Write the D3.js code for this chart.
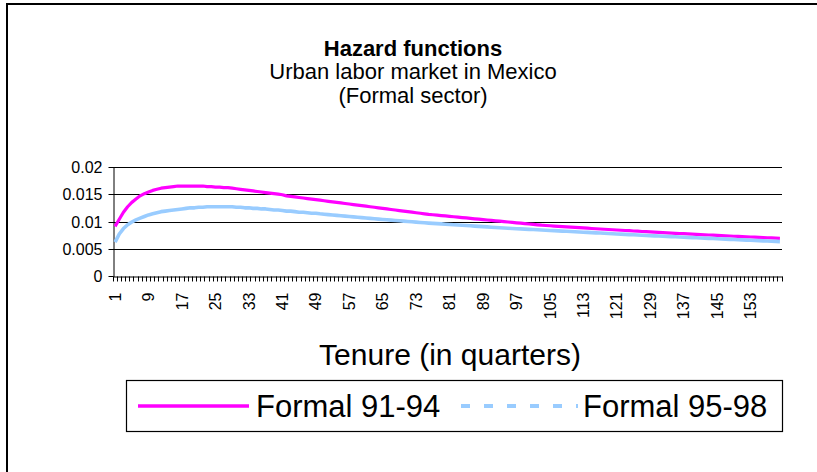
<!DOCTYPE html>
<html>
<head>
<meta charset="utf-8">
<script src="https://cdn.jsdelivr.net/npm/d3@7"></script>
<style>
  html, body { margin: 0; padding: 0; background: #fff; overflow: hidden; }
  svg { display: block; }
  text { font-family: Arial, "Liberation Sans", sans-serif; fill: #000; }
</style>
</head>
<body>
<svg id="chart" width="817" height="472"></svg>
<script>
// Tenure in quarters (categories)
const tenure = d3.range(1, 161);
const tickLabels = [1, 9, 17, 25, 33, 41, 49, 57, 65, 73, 81, 89, 97, 105, 113, 121, 129, 137, 145, 153];

// Hazard rates, formal sector 1991-94
const formal9194 = [
  0.0092, 0.0105, 0.0118, 0.0128, 0.0136, 0.0142, 0.0148, 0.0152, 0.0155, 0.0158,
  0.0160, 0.0162, 0.0163, 0.0164, 0.0165, 0.0166, 0.0166, 0.0166, 0.0166, 0.0166,
  0.0166, 0.0166, 0.0165, 0.0165, 0.0164, 0.0164, 0.0163, 0.0163, 0.0162, 0.0161,
  0.0160, 0.0159, 0.0158, 0.0157, 0.0156, 0.0155, 0.0154, 0.0153, 0.0152, 0.0151,
  0.0150, 0.0148, 0.0147, 0.0146, 0.0145, 0.0144, 0.0143, 0.0142, 0.0141, 0.0140,
  0.0139, 0.0138, 0.0137, 0.0136, 0.0135, 0.0134, 0.0133, 0.0132, 0.0131, 0.0130,
  0.0129, 0.0128, 0.0127, 0.0126, 0.0125, 0.0124, 0.0123, 0.0122, 0.0121, 0.0120,
  0.0119, 0.0118, 0.0117, 0.0116, 0.0115, 0.0114, 0.01133, 0.01126, 0.01118, 0.01111,
  0.01104, 0.01096, 0.01089, 0.01081, 0.01074, 0.01067, 0.01059, 0.01052, 0.01044, 0.01037,
  0.01030, 0.01022, 0.01015, 0.01007, 0.01000, 0.00993, 0.00985, 0.00978, 0.00970, 0.00963,
  0.00956, 0.00948, 0.00941, 0.00936, 0.00931, 0.00926, 0.00921, 0.00916, 0.00911, 0.00906,
  0.00901, 0.00896, 0.00891, 0.00886, 0.00881, 0.00876, 0.00872, 0.00867, 0.00862, 0.00858,
  0.00853, 0.00849, 0.00844, 0.00840, 0.00835, 0.00831, 0.00826, 0.00822, 0.00818, 0.00813,
  0.00809, 0.00805, 0.00801, 0.00797, 0.00793, 0.00789, 0.00785, 0.00781, 0.00777, 0.00773,
  0.00769, 0.00765, 0.00761, 0.00758, 0.00754, 0.00750, 0.00746, 0.00743, 0.00739, 0.00735,
  0.00732, 0.00728, 0.00725, 0.00721, 0.00718, 0.00714, 0.00711, 0.00707, 0.00704, 0.00700
];

// Hazard rates, formal sector 1995-98
const formal9598 = [
  0.0063, 0.0078, 0.0088, 0.0095, 0.0100, 0.0104, 0.0107, 0.0110, 0.0113, 0.0115,
  0.0117, 0.0119, 0.0120, 0.0121, 0.0122, 0.0123, 0.0124, 0.0125, 0.0126, 0.0126,
  0.0127, 0.0127, 0.0128, 0.0128, 0.0128, 0.0128, 0.0128, 0.0128, 0.0128, 0.0127,
  0.0127, 0.0126, 0.0126, 0.0125, 0.0125, 0.0124, 0.0124, 0.0123, 0.0122, 0.0122,
  0.0121, 0.0120, 0.0120, 0.0119, 0.0118, 0.0118, 0.0117, 0.0116, 0.0116, 0.0115,
  0.01143, 0.01136, 0.01129, 0.01122, 0.01115, 0.01108, 0.01101, 0.01094, 0.01087, 0.01080,
  0.01073, 0.01066, 0.01059, 0.01052, 0.01046, 0.01040, 0.01034, 0.01028, 0.01022, 0.01016,
  0.01010, 0.01004, 0.00998, 0.00992, 0.00986, 0.00980, 0.00975, 0.00970, 0.00965, 0.00960,
  0.00955, 0.00950, 0.00945, 0.00940, 0.00935, 0.00930, 0.00925, 0.00920, 0.00915, 0.00910,
  0.00905, 0.00900, 0.00895, 0.00890, 0.00885, 0.00881, 0.00877, 0.00873, 0.00869, 0.00865,
  0.00861, 0.00857, 0.00853, 0.00849, 0.00845, 0.00841, 0.00837, 0.00833, 0.00829, 0.00825,
  0.00821, 0.00817, 0.00813, 0.00809, 0.00805, 0.00801, 0.00797, 0.00793, 0.00789, 0.00785,
  0.00781, 0.00777, 0.00773, 0.00769, 0.00765, 0.00761, 0.00757, 0.00753, 0.00749, 0.00745,
  0.00742, 0.00738, 0.00735, 0.00731, 0.00728, 0.00724, 0.00721, 0.00717, 0.00714, 0.00710,
  0.00707, 0.00703, 0.00700, 0.00696, 0.00693, 0.00689, 0.00686, 0.00682, 0.00679, 0.00675,
  0.00672, 0.00668, 0.00665, 0.00661, 0.00658, 0.00654, 0.00651, 0.00647, 0.00644, 0.00640
];

const yTicks = [0, 0.005, 0.01, 0.015, 0.02];
const yTickLabels = ["0", "0.005", "0.01", "0.015", "0.02"];
const seriesNames = ["Formal 91-94", "Formal 95-98"];

const svg = d3.select("#chart");
const plot = { left: 113, right: 782, top: 167.5, bottom: 276.5 };
const crisp = v => Math.round(v - 0.5) + 0.5;

// Chart area frame (its right and bottom edges lie outside the view)
svg.append("rect")
  .attr("x", 7).attr("y", 4)
  .attr("width", 1000).attr("height", 600)
  .attr("fill", "#fff").attr("stroke", "#000").attr("stroke-width", 2);

// Titles
const titleX = 413;
svg.append("text").attr("x", titleX).attr("y", 56).attr("text-anchor", "middle")
  .style("font-size", "22px").style("font-weight", "bold").text("Hazard functions");
svg.append("text").attr("x", titleX).attr("y", 79).attr("text-anchor", "middle")
  .style("font-size", "22px").text("Urban labor market in Mexico");
svg.append("text").attr("x", titleX).attr("y", 103).attr("text-anchor", "middle")
  .style("font-size", "22px").text("(Formal sector)");

const x = d3.scaleBand().domain(tenure).range([plot.left, plot.right]).paddingInner(0).paddingOuter(0);
const y = d3.scaleLinear().domain([0, 0.02]).range([plot.bottom, plot.top]);

// Horizontal gridlines
svg.append("g").selectAll("line")
  .data(yTicks.filter(v => v > 0))
  .join("line")
  .attr("x1", plot.left).attr("x2", plot.right)
  .attr("y1", d => crisp(y(d))).attr("y2", d => crisp(y(d)))
  .attr("stroke", "#000").attr("stroke-width", 1);

// Y axis
const yAxis = svg.append("g")
  .attr("transform", `translate(${plot.left + 0.5},0)`)
  .call(d3.axisLeft(y).tickValues(yTicks).tickSize(5).tickSizeOuter(0).tickPadding(6)
    .tickFormat((d, i) => yTickLabels[i]));
yAxis.selectAll(".tick").attr("transform", d => `translate(0,${crisp(y(d))})`);
yAxis.select(".domain").attr("stroke", "#000");
yAxis.selectAll(".tick line").attr("stroke", "#000");
yAxis.selectAll("text").style("font-size", "16px").attr("fill", "#000");
yAxis.attr("font-family", null).attr("font-size", null);

// X axis: labels every 8th quarter, tick marks between categories
const xAxis = svg.append("g")
  .attr("transform", `translate(0,${plot.bottom})`)
  .call(d3.axisBottom(x).tickValues(tickLabels).tickSize(0).tickSizeOuter(0));
xAxis.select(".domain").attr("stroke", "#000");
xAxis.attr("font-family", null).attr("font-size", null);
xAxis.selectAll("text")
  .attr("transform", "rotate(-90)")
  .attr("x", -16).attr("y", 0).attr("dy", "0.35em")
  .attr("text-anchor", "end")
  .style("font-size", "16px").attr("fill", "#000");

const boundaries = tenure.map(c => x(c)).concat([plot.right]);
svg.append("g").selectAll("line")
  .data(boundaries)
  .join("line")
  .attr("x1", d => crisp(d)).attr("x2", d => crisp(d))
  .attr("y1", plot.bottom).attr("y2", plot.bottom + 5)
  .attr("stroke", "#000").attr("stroke-width", 1);

// Series lines
const line = d3.line()
  .x(d => x(d.c) + x.bandwidth() / 2)
  .y(d => y(d.v));

const s1 = tenure.map((c, i) => ({ c, v: formal9194[i] }));
const s2 = tenure.map((c, i) => ({ c, v: formal9598[i] }));

svg.append("path").datum(s1).attr("d", line)
  .attr("fill", "none").attr("stroke", "#FF00FF").attr("stroke-width", 3.2)
  .attr("stroke-linejoin", "round");
svg.append("path").datum(s2).attr("d", line)
  .attr("fill", "none").attr("stroke", "#99CCFF").attr("stroke-width", 3.6)
  .attr("stroke-linejoin", "round");

// X axis title
svg.append("text").attr("x", 450).attr("y", 365).attr("text-anchor", "middle")
  .style("font-size", "30px").text("Tenure (in quarters)");

// Legend
const legend = svg.append("g");
legend.append("rect")
  .attr("x", 126.5).attr("y", 380.5).attr("width", 656).attr("height", 51)
  .attr("fill", "#fff").attr("stroke", "#000").attr("stroke-width", 1.2);
legend.append("line")
  .attr("x1", 138).attr("x2", 249).attr("y1", 406).attr("y2", 406)
  .attr("stroke", "#FF00FF").attr("stroke-width", 3.5);
legend.append("text").attr("x", 256).attr("y", 417)
  .style("font-size", "31px").text(seriesNames[0]);
legend.append("line")
  .attr("x1", 461).attr("x2", 578).attr("y1", 406).attr("y2", 406)
  .attr("stroke", "#99CCFF").attr("stroke-width", 4)
  .attr("stroke-dasharray", "9,14");
legend.append("text").attr("x", 583).attr("y", 417)
  .style("font-size", "31px").text(seriesNames[1]);
</script>
</body>
</html>
